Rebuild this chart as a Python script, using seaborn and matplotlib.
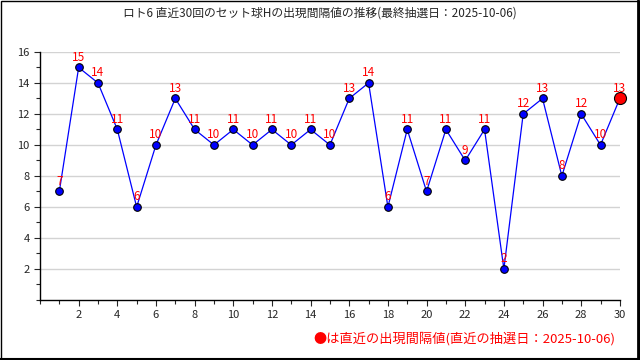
import numpy as np
import pandas as pd
import matplotlib
matplotlib.use("Agg")
import matplotlib.pyplot as plt
import seaborn as sns
from matplotlib.lines import Line2D
from matplotlib.patches import Rectangle
from matplotlib.ticker import MultipleLocator

# data
draws = list(range(1, 31))
intervals = [7, 15, 14, 11, 6, 10, 13, 11, 10, 11, 10, 11, 10, 11, 10,
             13, 14, 6, 11, 7, 11, 9, 11, 2, 12, 13, 8, 12, 10, 13]
title = "ロト6 直近30回のセット球Hの出現間隔値の推移(最終抽選日：2025-10-06)"
footer = "●は直近の出現間隔値(直近の抽選日：2025-10-06)"

df = pd.DataFrame({"draw": draws, "interval": intervals})

sns.set_style("white")
plt.rcParams['font.family'] = ['Noto Sans CJK JP', 'DejaVu Sans']

fig = plt.figure(figsize=(6.4, 3.6), dpi=100)
ax = fig.add_axes([0.0625, 0.1667, 0.906, 0.689])

# line + markers
sns.lineplot(data=df, x="draw", y="interval", color="blue", linewidth=0.9, ax=ax)
sns.scatterplot(data=df.iloc[:-1], x="draw", y="interval", color="blue",
                edgecolor="black", linewidth=0.8, s=30, zorder=3, ax=ax, clip_on=False)
sns.scatterplot(data=df.iloc[-1:], x="draw", y="interval", color="red",
                edgecolor="black", linewidth=0.8, s=75, zorder=4, ax=ax, clip_on=False)

# value labels
for d, v in zip(draws, intervals):
    ax.text(d, v + 0.25, str(v), color="red", ha="center", va="bottom", fontsize=8.5)

ax.set_xlim(0, 30)
ax.set_ylim(0, 16)
ax.xaxis.set_minor_locator(MultipleLocator(1))
ax.yaxis.set_minor_locator(MultipleLocator(1))
ax.set_xticks(range(2, 31, 2))
ax.set_yticks(range(2, 17, 2))
ax.tick_params(axis="both", which="major", length=4, width=0.8, labelsize=8, direction="out",
               left=True, bottom=True)
ax.tick_params(axis="both", which="minor", length=3, width=0.8, direction="out",
               left=True, bottom=True)
ax.grid(axis="y", color="#d3d3d3", linewidth=1)
ax.set_axisbelow(True)
for s in ["top", "right"]:
    ax.spines[s].set_visible(False)
for s in ["left", "bottom"]:
    ax.spines[s].set_color("black")
    ax.spines[s].set_linewidth(1)
ax.set_xlabel("")
ax.set_ylabel("")

fig.text(0.5, 0.965, title, ha="center", va="center", fontsize=8.5)
fig.text(0.961, 0.058, footer, ha="right", va="center", fontsize=9.5, color="red")

# frame around the picture, right and bottom a bit heavier
fig.patches.append(Rectangle((0.001, 0.002), 0.997, 0.996, transform=fig.transFigure,
                             fill=False, edgecolor="black", linewidth=1.0))
fig.lines.append(Line2D([0.997, 0.997], [0.0, 1.0], transform=fig.transFigure,
                        color="black", linewidth=2.0))
fig.lines.append(Line2D([0.0, 1.0], [0.003, 0.003], transform=fig.transFigure,
                        color="black", linewidth=1.5))

fig.savefig("out.png", dpi=100)
